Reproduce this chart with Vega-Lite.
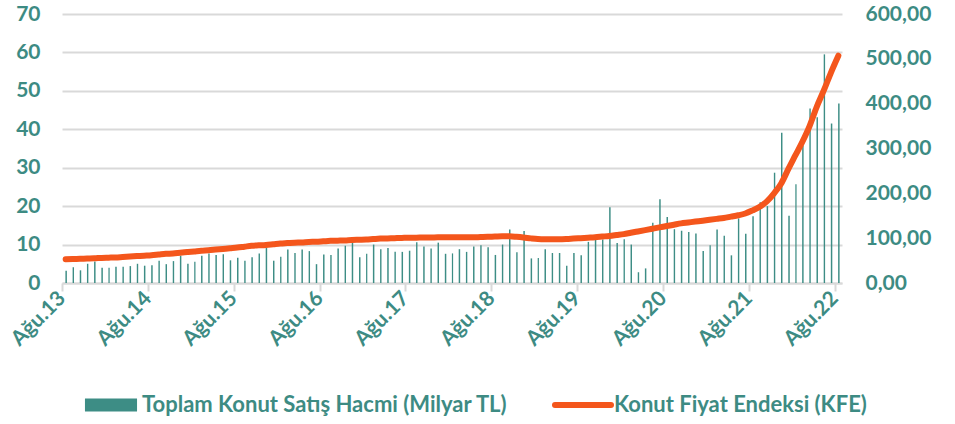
{
  "$schema": "https://vega.github.io/schema/vega-lite/v6.json",
  "width": 780,
  "height": 269,
  "autosize": {"type": "none"},
  "padding": {"left": 62, "top": 14, "right": 113, "bottom": 141},
  "config": {
    "view": {"stroke": null},
    "font": "Lato",
    "axis": {"labelFont": "Lato", "labelFontWeight": "bold", "labelColor": "#3D8B83", "labelFontSize": 21},
    "legend": {"labelFont": "Lato", "labelFontWeight": "bold", "labelColor": "#3D8B83", "labelFontSize": 22, "labelLimit": 0}
  },
  "data": {"values": [
    {"d":"2013-08-01","v":3.2,"k":53},{"d":"2013-09-01","v":4.1,"k":53.5},{"d":"2013-10-01","v":3.3,"k":54},{"d":"2013-11-01","v":5.0,"k":54.5},{"d":"2013-12-01","v":5.6,"k":55},
    {"d":"2014-01-01","v":4.0,"k":56},{"d":"2014-02-01","v":4.0,"k":56.5},{"d":"2014-03-01","v":4.2,"k":57},{"d":"2014-04-01","v":4.2,"k":58},{"d":"2014-05-01","v":4.4,"k":59},{"d":"2014-06-01","v":5.0,"k":60},{"d":"2014-07-01","v":4.5,"k":61},{"d":"2014-08-01","v":4.6,"k":62},{"d":"2014-09-01","v":5.8,"k":63.5},{"d":"2014-10-01","v":4.9,"k":65},{"d":"2014-11-01","v":5.7,"k":66},{"d":"2014-12-01","v":7.1,"k":67.5},
    {"d":"2015-01-01","v":5.0,"k":69},{"d":"2015-02-01","v":5.5,"k":70.5},{"d":"2015-03-01","v":7.1,"k":72},{"d":"2015-04-01","v":7.7,"k":73},{"d":"2015-05-01","v":7.3,"k":74.5},{"d":"2015-06-01","v":7.5,"k":76},{"d":"2015-07-01","v":5.9,"k":77.5},{"d":"2015-08-01","v":6.6,"k":79},{"d":"2015-09-01","v":5.8,"k":81},{"d":"2015-10-01","v":6.7,"k":83},{"d":"2015-11-01","v":7.7,"k":84},{"d":"2015-12-01","v":9.1,"k":85},
    {"d":"2016-01-01","v":5.8,"k":86.5},{"d":"2016-02-01","v":6.8,"k":88},{"d":"2016-03-01","v":8.7,"k":89},{"d":"2016-04-01","v":7.8,"k":90},{"d":"2016-05-01","v":8.7,"k":90.5},{"d":"2016-06-01","v":8.3,"k":91.5},{"d":"2016-07-01","v":4.9,"k":92},{"d":"2016-08-01","v":7.4,"k":93},{"d":"2016-09-01","v":7.3,"k":94},{"d":"2016-10-01","v":9.0,"k":94.5},{"d":"2016-11-01","v":9.7,"k":95},{"d":"2016-12-01","v":10.5,"k":96},
    {"d":"2017-01-01","v":6.7,"k":96.5},{"d":"2017-02-01","v":7.6,"k":97},{"d":"2017-03-01","v":10.0,"k":98},{"d":"2017-04-01","v":8.8,"k":99},{"d":"2017-05-01","v":9.1,"k":99.5},{"d":"2017-06-01","v":8.1,"k":100},{"d":"2017-07-01","v":8.1,"k":100.5},{"d":"2017-08-01","v":8.4,"k":101},{"d":"2017-09-01","v":10.6,"k":101},{"d":"2017-10-01","v":9.5,"k":101.5},{"d":"2017-11-01","v":9.0,"k":101.5},{"d":"2017-12-01","v":10.5,"k":102},
    {"d":"2018-01-01","v":7.6,"k":102},{"d":"2018-02-01","v":7.7,"k":102},{"d":"2018-03-01","v":8.8,"k":102},{"d":"2018-04-01","v":8.1,"k":102},{"d":"2018-05-01","v":9.5,"k":102},{"d":"2018-06-01","v":9.8,"k":102.5},{"d":"2018-07-01","v":9.3,"k":103},{"d":"2018-08-01","v":7.3,"k":103.5},{"d":"2018-09-01","v":10.0,"k":104},{"d":"2018-10-01","v":13.9,"k":104},{"d":"2018-11-01","v":8.0,"k":103},{"d":"2018-12-01","v":13.5,"k":101.5},
    {"d":"2019-01-01","v":6.4,"k":99.5},{"d":"2019-02-01","v":6.5,"k":98},{"d":"2019-03-01","v":8.8,"k":97.5},{"d":"2019-04-01","v":7.8,"k":97.5},{"d":"2019-05-01","v":7.8,"k":97.5},{"d":"2019-06-01","v":4.5,"k":98},{"d":"2019-07-01","v":7.8,"k":99},{"d":"2019-08-01","v":7.2,"k":100},{"d":"2019-09-01","v":10.7,"k":101},{"d":"2019-10-01","v":11.2,"k":102},{"d":"2019-11-01","v":11.3,"k":103.5},{"d":"2019-12-01","v":19.7,"k":105},
    {"d":"2020-01-01","v":10.4,"k":107},{"d":"2020-02-01","v":11.4,"k":109},{"d":"2020-03-01","v":10.0,"k":112},{"d":"2020-04-01","v":2.8,"k":115},{"d":"2020-05-01","v":3.8,"k":118},{"d":"2020-06-01","v":15.7,"k":121},{"d":"2020-07-01","v":21.8,"k":124},{"d":"2020-08-01","v":17.2,"k":127},{"d":"2020-09-01","v":14.0,"k":130},{"d":"2020-10-01","v":13.6,"k":133},{"d":"2020-11-01","v":13.3,"k":135},{"d":"2020-12-01","v":12.9,"k":137},
    {"d":"2021-01-01","v":8.3,"k":139},{"d":"2021-02-01","v":9.8,"k":141},{"d":"2021-03-01","v":13.9,"k":143},{"d":"2021-04-01","v":12.3,"k":145},{"d":"2021-05-01","v":7.2,"k":148},{"d":"2021-06-01","v":16.8,"k":151},{"d":"2021-07-01","v":12.8,"k":155},{"d":"2021-08-01","v":17.4,"k":162},{"d":"2021-09-01","v":21.0,"k":170},{"d":"2021-10-01","v":20.0,"k":182},{"d":"2021-11-01","v":28.7,"k":200},{"d":"2021-12-01","v":39.1,"k":222},
    {"d":"2022-01-01","v":17.5,"k":255},{"d":"2022-02-01","v":25.7,"k":285},{"d":"2022-03-01","v":35.8,"k":315},{"d":"2022-04-01","v":45.4,"k":350},{"d":"2022-05-01","v":43.1,"k":393},{"d":"2022-06-01","v":59.5,"k":430},{"d":"2022-07-01","v":41.5,"k":470},{"d":"2022-08-01","v":46.7,"k":507}
  ]},
  "encoding": {
    "x": {
      "field": "d", "timeUnit": "utcyearmonth", "type": "temporal",
      "scale": {"domain": [{"year": 2013, "month": 8, "date": 1, "utc": true}, {"year": 2022, "month": 9, "date": 1, "utc": true}], "nice": false},
      "axis": {
        "title": null, "grid": false,
        "values": [
          {"year": 2013, "month": 8, "date": 1, "utc": true}, {"year": 2014, "month": 8, "date": 1, "utc": true},
          {"year": 2015, "month": 8, "date": 1, "utc": true}, {"year": 2016, "month": 8, "date": 1, "utc": true},
          {"year": 2017, "month": 8, "date": 1, "utc": true}, {"year": 2018, "month": 8, "date": 1, "utc": true},
          {"year": 2019, "month": 8, "date": 1, "utc": true}, {"year": 2020, "month": 8, "date": 1, "utc": true},
          {"year": 2021, "month": 8, "date": 1, "utc": true}, {"year": 2022, "month": 8, "date": 1, "utc": true}
        ],
        "labelExpr": "'Ağu.' + utcFormat(datum.value, '%y')",
        "labelAngle": -45, "labelAlign": "right", "labelBaseline": "middle",
        "labelPadding": 4, "labelFlush": false, "labelOverlap": false,
        "domainColor": "#D9D9D9", "domainWidth": 2,
        "tickColor": "#D9D9D9", "tickWidth": 2, "tickSize": 8
      }
    }
  },
  "layer": [
    {
      "mark": {"type": "bar", "width": {"band": 0.34}},
      "encoding": {
        "y": {
          "field": "v", "type": "quantitative",
          "scale": {"domain": [0, 70], "nice": false},
          "axis": {"title": null, "values": [0, 10, 20, 30, 40, 50, 60, 70], "domain": false, "ticks": false, "labelPadding": 22, "gridColor": "#D9D9D9", "gridWidth": 2}
        },
        "fill": {
          "datum": "Toplam Konut Satış Hacmi (Milyar TL)",
          "scale": {"range": ["#3D8D85"]},
          "legend": {"title": null, "orient": "bottom", "offset": 6, "padding": 18, "symbolType": "M-0.93,-0.232H0.93V0.232H-0.93Z", "symbolSize": 3136, "symbolStrokeWidth": 6, "symbolStrokeColor": "transparent", "labelOffset": 0}
        }
      }
    },
    {
      "mark": {"type": "line", "strokeWidth": 6, "strokeCap": "round", "strokeJoin": "round", "interpolate": "monotone"},
      "encoding": {
        "x": {"field": "d", "timeUnit": "utcyearmonth", "type": "temporal", "bandPosition": 0.5},
        "y": {
          "field": "k", "type": "quantitative",
          "scale": {"domain": [0, 600], "nice": false},
          "axis": {"title": null, "orient": "right", "grid": false, "values": [0, 100, 200, 300, 400, 500, 600], "domain": false, "ticks": false, "labelPadding": 23, "labelExpr": "replace(format(datum.value, '.2f'), '.', ',')"}
        },
        "stroke": {
          "datum": "Konut Fiyat Endeksi (KFE)",
          "scale": {"range": ["#F4561C"]},
          "legend": {"title": null, "orient": "bottom", "offset": 6, "padding": 18, "symbolType": "stroke", "symbolSize": 3136, "symbolStrokeWidth": 6, "labelOffset": 0, "encode": {"symbols": {"update": {"strokeCap": {"value": "round"}}}}}
        }
      }
    }
  ],
  "resolve": {"scale": {"y": "independent", "fill": "independent", "stroke": "independent"}}
}
